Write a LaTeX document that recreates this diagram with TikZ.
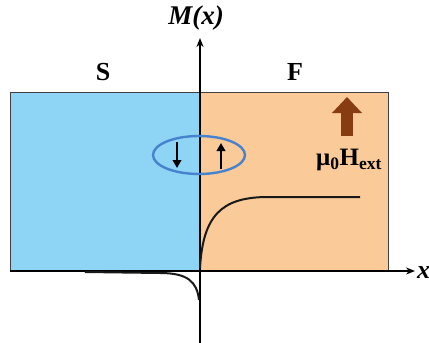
\documentclass[tikz,border=0pt]{standalone}
\usepackage{fontspec}
\setmainfont{Liberation Serif}
\usetikzlibrary{arrows.meta,shapes.geometric}
\definecolor{sblue}{RGB}{142,212,244}
\definecolor{forange}{RGB}{250,202,152}
\definecolor{ringblue}{RGB}{70,130,205}
\definecolor{hbrown}{RGB}{135,60,18}
\tikzset{
  region/.style={draw=black!75, line width=0.8pt},
  ax/.style={line width=1.8pt, -{Stealth[length=9pt,width=7pt]}},
  magc/.style={line width=2pt, black!90},
  spin/.style={line width=2.8pt, -{Triangle[length=8pt,width=8.5pt]}},
  lab/.style={font=\fontsize{26}{28}\selectfont\bfseries, inner sep=0pt},
}

\begin{document}
\begin{tikzpicture}[x=1pt,y=-1pt]
\useasboundingbox (0,0) rectangle (429,343);
% regions
\fill[sblue] (10,92) rectangle (200,271);
\fill[forange] (200,92) rectangle (388,271);
\draw[region] (10,271) -- (10,92) -- (388,92) -- (388,271);
% axes
\coordinate (o) at (200,271);
\coordinate (ybot) at (200,343);
\coordinate (ytop) at (200,38);
\coordinate (xl) at (10,271);
\coordinate (xr) at (415,271);
\draw[ax] (ybot) -- (ytop);
\draw[ax] (xl) -- (xr);
\node[lab, font=\fontsize{27}{29}\selectfont\bfseries\itshape] (my) at (196,18) {M(x)};
\node[lab, font=\fontsize{26}{28}\selectfont\bfseries\itshape, anchor=west] (xlab) at (417,273) {x};
\node[lab] (s) at (103,72) {S};
\node[lab] (f) at (295,72) {F};
% magnetisation
\coordinate (fa) at (200,268);
\coordinate (fb) at (360,197);
\draw[magc] (fa) .. controls (203,215) and (222,198) .. (265,197) -- (fb);
\coordinate (sa) at (199,300);
\coordinate (sb) at (85,272);
\draw[magc] (sa) .. controls (197,282) and (188,273) .. (160,273) -- (sb);
% spins at the interface
\node[draw=ringblue, line width=2.4pt, ellipse, minimum width=92pt, minimum height=38pt, inner sep=0pt] (ring) at (199,155) {};
\coordinate (dn1) at (177,142);
\coordinate (dn2) at (177,168);
\coordinate (up1) at (221,169);
\coordinate (up2) at (221,143);
\draw[spin] (dn1) -- (dn2);
\draw[spin] (up1) -- (up2);
% field
\coordinate (h1) at (347,136);
\coordinate (h2) at (347,97);
\draw[hbrown, line width=12pt, -{Triangle[length=16pt,width=29pt]}] (h1) -- (h2);
\node[lab, font=\fontsize{25}{27}\selectfont\bfseries] (hext) at (349,160) {μ\textsubscript{0}H\textsubscript{ext}};
\end{tikzpicture}
\end{document}
